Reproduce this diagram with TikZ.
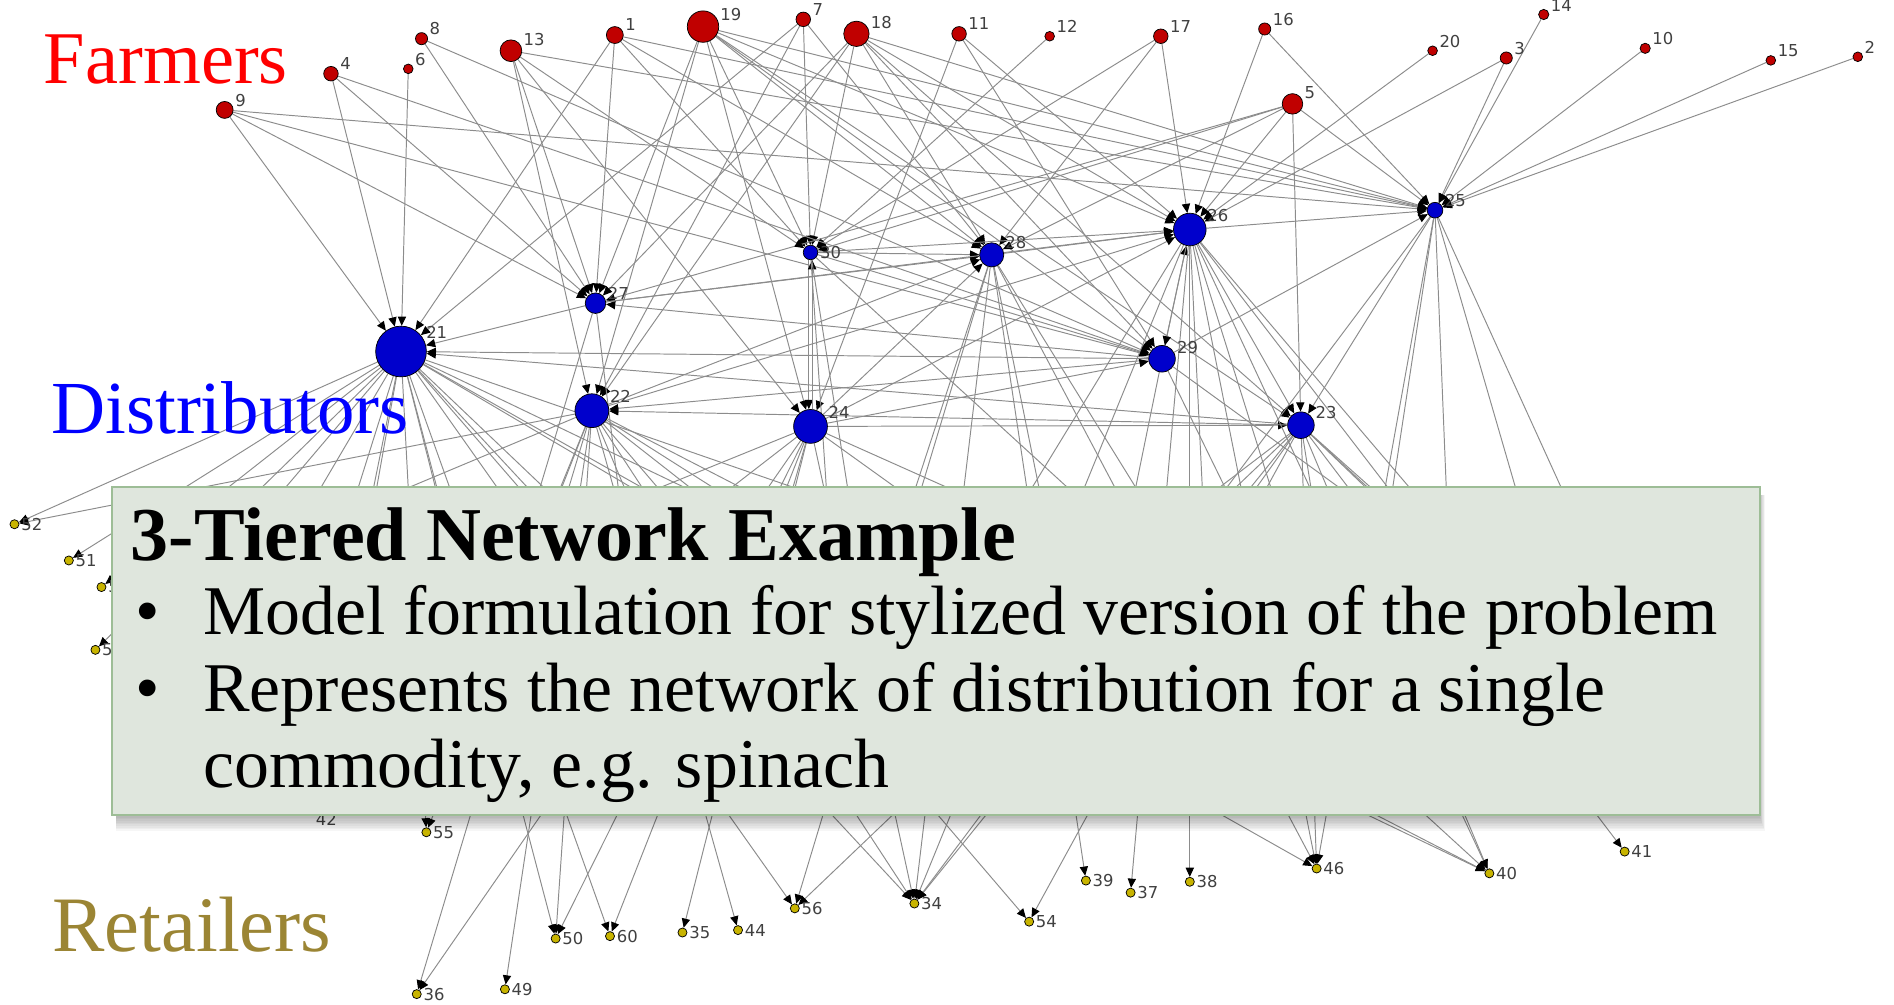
\documentclass[tikz,border=0pt]{standalone}
\usepackage{fontspec}
\setmainfont{Liberation Serif}
\newfontfamily\tagfont{DejaVu Sans}
\usetikzlibrary{arrows.meta}
\definecolor{farmred}{HTML}{C00000}
\definecolor{distblue}{HTML}{0000CC}
\definecolor{retyellow}{HTML}{C8B400}
\definecolor{tiergold}{HTML}{9B8534}
\definecolor{linkgray}{HTML}{8C8C8C}
\definecolor{tagtext}{HTML}{404040}
\definecolor{panelfill}{HTML}{DFE6DD}
\definecolor{panelrule}{HTML}{9DBD96}
\pgfdeclarelayer{links}
\pgfdeclarelayer{overlay}
\pgfsetlayers{links,main,overlay}
\begin{document}
\begin{tikzpicture}[x=0.5pt, y=-0.5pt,
  tag/.style={font=\tagfont\fontsize{6.8}{7}\selectfont, text=tagtext, inner sep=0.6pt},
  farmer/.style={circle, draw=black, line width=0.3pt, fill=farmred, inner sep=0pt, minimum size=#1},
  dist/.style={circle, draw=black, line width=0.3pt, fill=distblue, inner sep=0pt, minimum size=#1},
  retailer/.style={circle, draw=black, line width=0.3pt, fill=retyellow, inner sep=0pt, minimum size=3.75pt},
  link/.style={draw=linkgray, line width=0.4pt, -{Triangle[length=3.8pt,width=3.4pt,color=black]}},
  hiddenlink/.style={draw=linkgray, line width=0.4pt},
  tier/.style={anchor=base west, inner sep=0pt},
  bodytext/.style={anchor=base west, inner sep=0pt, font=\fontsize{28.9}{32}\selectfont},
  panel/.style={draw=panelrule, line width=0.8pt, fill=panelfill, anchor=north west,
                minimum width=682pt, minimum height=136pt, inner sep=0pt}]
\useasboundingbox (0,0) rectangle (1568,832);

% ---------- tier captions ----------
\node[tier, text=red, font=\fontsize{30.8}{32}\selectfont] (capf) at (36,69) {Farmers};
\node[tier, text=blue, font=\fontsize{31}{32}\selectfont] (capd) at (42,359) {Distributors};
\node[tier, text=tiergold, font=\fontsize{32.5}{34}\selectfont] (capr) at (43,788) {Retailers};

% ---------- farmers ----------
\node[farmer=7pt,    label={[tag]15:1}]  (f1)  at (509,29) {};
\node[farmer=4pt,    label={[tag]15:2}]  (f2)  at (1538,47) {};
\node[farmer=5pt,    label={[tag]15:3}]  (f3)  at (1247,48) {};
\node[farmer=6pt,    label={[tag]15:4}]  (f4)  at (274,61) {};
\node[farmer=8.5pt,  label={[tag]15:5}]  (f5)  at (1070,86) {};
\node[farmer=4pt,    label={[tag]15:6}]  (f6)  at (338,57) {};
\node[farmer=6pt,    label={[tag]15:7}]  (f7)  at (665,16) {};
\node[farmer=5pt,    label={[tag]15:8}]  (f8)  at (349,32) {};
\node[farmer=7pt,    label={[tag]5:9}]   (f9)  at (186,91) {};
\node[farmer=4.25pt, label={[tag]15:10}] (f10) at (1362,40) {};
\node[farmer=6pt,    label={[tag]15:11}] (f11) at (794,28) {};
\node[farmer=4pt,    label={[tag]15:12}] (f12) at (869,30) {};
\node[farmer=9pt,    label={[tag]15:13}] (f13) at (423,42) {};
\node[farmer=4.25pt, label={[tag]15:14}] (f14) at (1278,12) {};
\node[farmer=4pt,    label={[tag]15:15}] (f15) at (1466,50) {};
\node[farmer=5pt,    label={[tag]15:16}] (f16) at (1047,24) {};
\node[farmer=6pt,    label={[tag]15:17}] (f17) at (961,30) {};
\node[farmer=10.5pt, label={[tag]15:18}] (f18) at (709,28) {};
\node[farmer=13pt,   label={[tag]15:19}] (f19) at (582,22) {};
\node[farmer=4pt,    label={[tag]15:20}] (f20) at (1186,42) {};

% ---------- distributors ----------
\node[dist=21pt,  label={[tag]25:21}] (d21) at (332,291) {};
\node[dist=14pt,  label={[tag]20:22}] (d22) at (490,340) {};
\node[dist=11pt,  label={[tag]20:23}] (d23) at (1077,352) {};
\node[dist=14pt,  label={[tag]20:24}] (d24) at (671,353) {};
\node[dist=6.5pt, label={[tag]10:25}] (d25) at (1188,174) {};
\node[dist=13.5pt,label={[tag]20:26}] (d26) at (985,190) {};
\node[dist=8.5pt, label={[tag]10:27}] (d27) at (493,251) {};
\node[dist=10pt,  label={[tag]20:28}] (d28) at (821,211) {};
\node[dist=11pt,  label={[tag]15:29}] (d29) at (962,297) {};
\node[dist=6pt,   label={[tag]0:30}]  (d30) at (671,209) {};

% ---------- retailers ----------
\node[retailer, label={[tag]0:34}] (r34) at (757,748) {};
\node[retailer, label={[tag]0:35}] (r35) at (565,772) {};
\node[retailer, label={[tag]0:36}] (r36) at (345,823) {};
\node[retailer, label={[tag]0:37}] (r37) at (936,739) {};
\node[retailer, label={[tag]0:38}] (r38) at (985,730) {};
\node[retailer, label={[tag]0:39}] (r39) at (899,729) {};
\node[retailer, label={[tag]0:40}] (r40) at (1233,723) {};
\node[retailer, label={[tag]0:41}] (r41) at (1345,705) {};
\node[retailer, label={[tag,yshift=-1.5pt]-15:42}] (r42) at (256,668) {};
\node[retailer, label={[tag]0:44}] (r44) at (611,770) {};
\node[retailer, label={[tag]0:46}] (r46) at (1090,719) {};
\node[retailer, label={[tag]0:49}] (r49) at (418,819) {};
\node[retailer, label={[tag]0:50}] (r50) at (460,777) {};
\node[retailer, label={[tag]0:51}] (r51) at (57,464) {};
\node[retailer, label={[tag]0:52}] (r52) at (12,434) {};
\node[retailer, label={[tag]0:53}] (r53) at (79,538) {};
\node[retailer, label={[tag]0:54}] (r54) at (852,763) {};
\node[retailer, label={[tag]0:55}] (r55) at (353,689) {};
\node[retailer, label={[tag]0:56}] (r56) at (658,752) {};
\node[retailer, label={[tag]0:57}] (r57) at (84,486) {};
\node[retailer, label={[tag]0:60}] (r60) at (505,775) {};

% retailers lying under the caption panel
\coordinate (h1) at (180,470);
\coordinate (h2) at (260,520);
\coordinate (h3) at (150,600);
\coordinate (h4) at (400,560);
\coordinate (h5) at (520,470);
\coordinate (h6) at (600,600);
\coordinate (h7) at (720,520);
\coordinate (h8) at (820,460);
\coordinate (h9) at (900,600);
\coordinate (h10) at (1000,500);
\coordinate (h11) at (1120,620);
\coordinate (h12) at (1200,470);
\coordinate (h13) at (1300,560);
\coordinate (h14) at (1400,640);
\coordinate (h15) at (700,640);
\coordinate (h33) at (300,470);

% ---------- links ----------
\begin{pgfonlayer}{links}
% farmers to distributors
\foreach \s/\t in {f1/d21, f1/d27, f1/d30, f1/d28, f1/d25,
  f19/d27, f19/d22, f19/d30, f19/d24, f19/d28, f19/d26, f19/d25, f19/d29, f19/d23,
  f7/d21, f7/d30, f7/d28, f7/d22,
  f18/d27, f18/d30, f18/d28, f18/d26, f18/d25, f18/d29, f18/d23, f18/d22,
  f11/d24, f11/d26, f11/d29, f12/d30, f17/d26, f17/d30, f17/d28,
  f16/d26, f16/d25, f20/d26, f3/d25, f3/d26, f14/d25, f10/d25, f15/d25, f2/d25,
  f5/d23, f5/d25, f5/d30, f5/d27, f5/d28, f5/d26,
  f13/d27, f13/d22, f13/d30, f13/d25, f13/d24,
  f8/d27, f8/d29, f6/d21, f4/d21, f4/d27, f4/d29,
  f9/d21, f9/d27, f9/d25, f9/d29}
  \draw[link] (\s) -- (\t);
% distributors to distributors
\foreach \s/\t in {d27/d21, d29/d21, d23/d21, d24/d23, d24/d28, d24/d26, d30/d28,
  d30/d26, d28/d26, d26/d25, d29/d26, d26/d29, d25/d23, d26/d23, d29/d27, d29/d22,
  d23/d22, d30/d29, d27/d28, d27/d26, d22/d26, d24/d29, d29/d25, d22/d28}
  \draw[link] (\s) -- (\t);
\draw[link] ([xshift=-0.7pt]d30.south) -- ([xshift=-0.7pt]d24.north);
\draw[link] ([xshift=0.7pt]d24.north) -- ([xshift=0.7pt]d30.south);
% distributors to retailers
\foreach \s/\t in {d21/r52, d21/r51, d21/r57, d21/r53, d21/r55, d21/r50, d21/r60,
  d21/r56, d21/r34, d21/r40, d21/r46, d21/r42,
  d22/r52, d22/r55, d22/r36, d22/r49, d22/r50, d22/r44, d22/r34, d22/r54, d22/r40,
  d24/r36, d24/r50, d24/r60, d24/r35, d24/r34,
  d28/r56, d28/r34, d28/r39, d28/r46,
  d23/r56, d23/r34, d23/r54, d23/r46, d23/r40, d23/r41,
  d26/r34, d26/r37, d26/r38, d26/r46, d26/r40,
  d25/r34, d25/r46, d30/r40}
  \draw[link] (\s) -- (\t);
\foreach \s/\t in {d21/h1, d21/h2, d21/h3, d21/h4, d21/h5, d21/h6, d21/h7, d21/h8, d21/h33,
  d22/h1, d22/h4, d22/h6, d22/h7, d22/h9,
  d24/h5, d24/h6, d24/h8, d24/h10, d24/h2,
  d27/h4, d27/h5, d28/h7, d28/h10, d28/h9,
  d29/h9, d29/h11, d29/h12,
  d26/h10, d26/h11, d26/h12, d26/h13, d26/h8,
  d23/h11, d23/h12, d23/h13, d23/h14, d23/h9, d23/h15,
  d25/h13, d25/h12, d25/h11, d25/h14, d30/h7, d30/h15}
  \draw[hiddenlink] (\s) -- (\t);
\end{pgfonlayer}

% ---------- caption panel ----------
\begin{pgfonlayer}{overlay}
\foreach \k in {1,...,10}
  \fill[black, opacity=0.035] (96,410) rectangle (1456+0.5*\k, 674+1.4*\k);
\node[panel] (panel) at (92,402) {};
\node[tier, font=\bfseries\fontsize{31.5}{36}\selectfont] (title) at (108,464) {3-Tiered Network Example};
\node[bodytext] (bul1) at (112,525) {•};
\node[bodytext] (line1) at (168,525) {Model formulation for stylized version of the problem};
\node[bodytext] (bul2) at (112,589) {•};
\node[bodytext] (line2) at (168,589) {Represents the network of distribution for a single};
\node[bodytext] (line3) at (168,652) {commodity, e.g. spinach};
\end{pgfonlayer}
\end{tikzpicture}
\end{document}
